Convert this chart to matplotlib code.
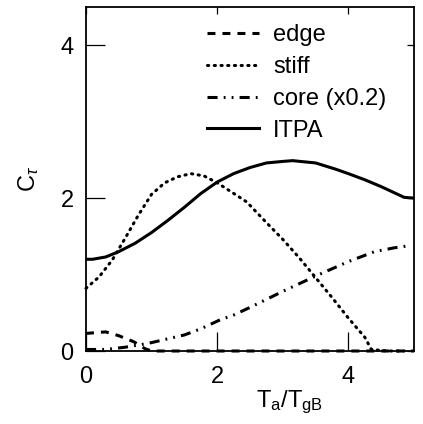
import matplotlib
matplotlib.use("Agg")
import matplotlib.pyplot as plt

plt.rcParams["font.family"] = ["Liberation Sans", "DejaVu Sans"]
plt.rcParams["mathtext.fontset"] = "custom"
plt.rcParams["mathtext.rm"] = "Liberation Sans"
plt.rcParams["mathtext.it"] = "Liberation Sans:italic"

# values
itpa_x = [0, 0.1, 0.3, 0.5, 0.75, 1.0, 1.25, 1.5, 1.75, 2.0, 2.25, 2.5, 2.75,
          3.0, 3.15, 3.5, 3.8, 4.0, 4.25, 4.5, 4.85, 5.0]
itpa_y = [1.20, 1.20, 1.23, 1.30, 1.41, 1.55, 1.71, 1.88, 2.06, 2.21, 2.32, 2.40, 2.46,
          2.48, 2.49, 2.46, 2.38, 2.32, 2.24, 2.15, 2.01, 2.00]

stiff_x = [0, 0.2, 0.4, 0.6, 0.8, 1.0, 1.2, 1.4, 1.6, 1.8, 2.0, 2.2, 2.45, 2.75,
           3.0, 3.25, 3.5, 3.75, 4.0, 4.25, 4.35, 4.6, 4.85]
stiff_y = [0.82, 0.97, 1.19, 1.48, 1.78, 2.05, 2.20, 2.28, 2.32, 2.29, 2.20, 2.09, 1.95, 1.68,
           1.46, 1.22, 0.96, 0.70, 0.43, 0.18, 0.02, 0.0, 0.0]

core_x = [0, 0.3, 0.6, 0.95, 1.25, 1.5, 1.75, 2.05, 2.25, 2.5, 3.0, 3.5, 4.0, 4.4, 4.7, 4.95]
core_y = [0.02, 0.02, 0.05, 0.10, 0.16, 0.21, 0.29, 0.41, 0.47, 0.57, 0.78, 0.98, 1.17, 1.30, 1.35, 1.38]

edge_x = [0, 0.3, 0.5, 0.73, 0.9, 1.0, 2.0, 3.0, 4.0, 5.0]
edge_y = [0.23, 0.25, 0.20, 0.12, 0.03, 0.0, 0.0, 0.0, 0.0, 0.0]

fig = plt.figure(figsize=(4.23, 4.24), dpi=100)
ax = fig.add_axes([86 / 423, 1 - 351 / 424, 328 / 423, 344 / 424])

lw = 2.2
ax.plot(edge_x, edge_y, color="black", lw=lw, linestyle=(0, (2.6, 2.3)),
        clip_on=False, label="edge")
ax.plot(stiff_x, stiff_y, color="black", lw=lw, linestyle=(0, (0.4, 1.8)),
        dash_capstyle="round", clip_on=False, label="stiff")
ax.plot(core_x, core_y, color="black", lw=lw,
        linestyle=(0, (3.3, 2.0, 0.6, 2.0, 0.6, 2.0)), label="core (x0.2)")
ax.plot(itpa_x, itpa_y, color="black", lw=lw, label="ITPA")

ax.set_xlim(0, 5)
ax.set_ylim(0, 4.5)
ax.set_xticks([0, 2, 4])
ax.set_yticks([0, 2, 4])
for s in ax.spines.values():
    s.set_linewidth(1.3)

ax.tick_params(direction="in", length=14, width=0.9, labelsize=17, pad=9,
               top=True, right=True)
ax.tick_params(axis="x", pad=11)
for t in ax.xaxis.get_ticklines()[1::2] + ax.yaxis.get_ticklines()[1::2]:
    t.set_markersize(5)

ax.set_ylabel(r"C$_\tau$", fontsize=17, labelpad=14)
ax.set_xlabel(r"T$_\mathrm{a}$/T$_\mathrm{gB}$", fontsize=17, labelpad=2)
ax.xaxis.set_label_coords(0.62, -0.11)

ax.legend(loc="upper left", bbox_to_anchor=(207 / 423, 1 - 24 / 424),
          bbox_transform=fig.transFigure, frameon=False, fontsize=17,
          handlelength=2.2, handletextpad=0.6, labelspacing=0.42,
          borderpad=0, borderaxespad=0)

fig.savefig("out.png", dpi=100)
